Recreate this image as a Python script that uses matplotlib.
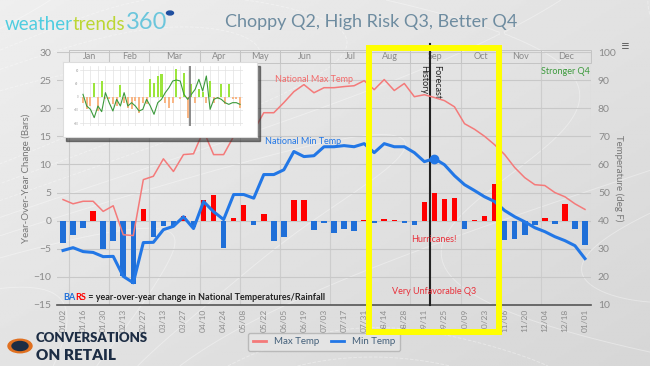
import numpy as np
import matplotlib
matplotlib.use("Agg")
import matplotlib.pyplot as plt
import matplotlib.transforms as mtransforms
from matplotlib.patches import Rectangle, Circle
from matplotlib.lines import Line2D

plt.rcParams['font.family'] = ['Lato', 'DejaVu Sans']

W, H = 650, 366


def fx(x):
    return x / W


def fy(y):
    return 1 - y / H


# ---- data (weekly) ----
week_labels = ['01/02', '01/16', '01/30', '02/13', '02/27', '03/13', '03/27', '04/10', '04/24',
               '05/08', '05/22', '06/05', '06/19', '07/03', '07/17', '07/31', '08/14', '08/28',
               '09/11', '09/25', '10/09', '10/23', '11/06', '11/20', '12/04', '12/18', '01/01']
months = ['Jan', 'Feb', 'Mar', 'Apr', 'May', 'Jun', 'Jul', 'Aug', 'Sep', 'Oct', 'Nov', 'Dec']
month_weeks = [4, 4, 5, 4, 4, 5, 4, 4, 5, 4, 4, 5]

max_temp = [47.5, 46, 46.9, 46.9, 43.3, 45.3, 35, 34.7, 54.6, 55.8,
            62, 57.5, 63.5, 63.8, 72, 63.5, 63.5, 70, 71, 72,
            78.4, 78.4, 82, 85.9, 88.4, 85.5, 87.3, 87.3, 87.7, 88,
            89.8, 86.6, 90.2, 86.3, 88.8, 84.1, 84.8, 83.8, 82.7, 80.5,
            74.5, 72.5, 70, 67, 63.5, 58.9, 55.3, 52.8, 52.5, 50,
            48.5, 46, 44]
min_temp = [29.4, 30.4, 29, 28.7, 27.2, 27.3, 20.2, 17.9, 32.2, 32.3,
            36.8, 38, 41.4, 37.2, 46.8, 43.2, 40.4, 49.3, 49.3, 48,
            56.4, 56.4, 58.1, 64.6, 62.8, 63.1, 66.3, 66.3, 66.7, 66.3,
            67.4, 64.2, 67.4, 66.3, 66.3, 64.2, 61, 62.1, 59.9, 56,
            52.8, 50.7, 48.5, 46.8, 43.6, 41.4, 39.6, 37.5, 36.1, 34.3,
            32.9, 31.1, 26.5]
yoy_bars = [-3.9, -2.5, -1.3, 1.8, -5, -3.7, -9.9, -11.2, 2.1, -2.9,
            -1, -0.9, 0.9, -1.1, 3.6, 4.6, -4.8, 0.5, 2.7, -0.7,
            1.1, -3.7, -2.9, 3.7, 3.7, -1.6, -0.4, -2.2, -1.5, -1.9,
            0.2, -0.4, 0.3, 0.1, -0.4, -0.7, 3.4, 5, 3.9, 4.1,
            -1.5, 0.2, 0.8, 6.6, -3.4, -3.2, -2.5, -0.8, 0.5, -0.6,
            3.0, -1.5, -4.3]
forecast_week = 36.6
current_week = 37

# small rainfall chart pasted in the corner
inset_bars = [-18, -38, -28, 42, -43, 47, -8, -6, -23, -28,
              34, -18, -33, -38, -13, -48, -18, -23, 52, 42,
              62, 67, -18, -33, -18, 82, -8, 72, -63, 37,
              -18, 22, 14, -18, 47, -18, -8, 37, -23, 37,
              -8, -8, -33]
inset_line = [7, -28, -38, -63, -28, -45, 12, -18, -43, -8,
              -28, 12, -28, -18, -28, -43, -38, -8, -28, -53,
              -18, -8, 12, 27, 47, 50, 47, 7, -8, 7,
              22, 52, 17, 62, -38, -8, -3, -8, -18, -23,
              -18, -18, -23]
inset_split = 28.5

weeks = np.arange(len(max_temp))

fig = plt.figure(figsize=(6.5, 3.66), dpi=100)

# ---- background ----
bg = fig.add_axes([0, 0, 1, 1], zorder=-10)
gx, gy = np.meshgrid(np.linspace(0, 1, 260), np.linspace(0, 1, 150))
shade = 0.89 - 0.05 * gx + 0.045 * gy
bg.imshow(shade, cmap='gray', vmin=0, vmax=1, origin='lower', extent=[0, 1, 0, 1], aspect='auto')
swirl = np.sin(5 * gx + 2.5 * np.cos(3 * gy)) + np.cos(6 * gy - 3 * gx)
bg.contour(gx, gy, swirl, levels=9, colors='white', linewidths=0.7, alpha=0.35)
bg.set_xlim(0, 1)
bg.set_ylim(0, 1)
bg.axis('off')

# ---- main chart ----
ax = fig.add_axes([fx(57), fy(305), (591 - 57) / W, (305 - 52) / H])
ax.set_facecolor('none')
bar_colors = ['#ff0000' if v > 0 else '#1f6fd8' for v in yoy_bars]
ax.bar(weeks, yoy_bars, width=0.55, color=bar_colors, zorder=3)
ax.set_xlim(-0.6, 52.6)
ax.set_ylim(-15, 30)
ax.set_yticks(np.arange(-15, 31, 5))
ax.set_xticks(weeks[::2])
ax.set_xticklabels(week_labels, rotation=90, fontsize=6, color='#8c8c8c')
bounds = 0.6 + np.concatenate([[0], np.cumsum(month_weeks)])
ax.set_xticks(bounds, minor=True)
ax.tick_params(axis='both', which='both', length=0)
ax.tick_params(axis='y', labelsize=7.5, labelcolor='#8a8a8a', pad=4)
ax.tick_params(axis='x', pad=3)
ax.grid(axis='y', color='#c8c8c8', lw=0.8)
ax.grid(axis='x', which='minor', color='#cdcdcd', lw=0.8)
ax.set_axisbelow(True)
for s in ['left', 'right', 'top']:
    ax.spines[s].set_visible(False)
ax.spines['bottom'].set_color('#555555')
ax.spines['bottom'].set_linewidth(1.2)
ax.set_ylabel('Year-Over-Year Change (Bars)', fontsize=7, color='#777777', labelpad=2)

# month band along the top
band = mtransforms.blended_transform_factory(ax.transData, ax.transAxes)
for name, start, n in zip(months, bounds[:-1], month_weeks):
    ax.add_patch(Rectangle((start, 0.958), n, 0.048, transform=band, fill=False,
                           edgecolor='#c4c4c4', lw=0.7, clip_on=False))
    ax.text(start + n / 2, 0.982, name, transform=band, ha='center', va='center',
            fontsize=6.5, color='#8a8a8a')

# history / forecast divider
ax.axvline(forecast_week, ymin=0, ymax=1.03, color='#222222', lw=1.5, clip_on=False, zorder=4)
ax.text(forecast_week - 0.2, 0.95, 'History', transform=band, rotation=-90,
        ha='right', va='top', fontsize=6.5, color='#222222')
ax.text(forecast_week + 0.2, 0.95, 'Forecast', transform=band, rotation=-90,
        ha='left', va='top', fontsize=6.5, color='#222222')

ax2 = ax.twinx()
ax2.set_ylim(10, 100)
ax2.set_yticks(np.arange(10, 101, 10))
ax2.plot(weeks, max_temp, color='#f47a7a', lw=1.1, zorder=5)
ax2.plot(weeks, min_temp, color='#2277e6', lw=2.2, zorder=5)
ax2.plot(weeks[current_week], min_temp[current_week], 'o', color='#2277e6', ms=6, zorder=6)
ax2.tick_params(axis='y', length=0, labelsize=7.5, labelcolor='#8a8a8a', pad=5)
for s in ax2.spines.values():
    s.set_visible(False)
ax2.set_ylabel('Temperature (deg F)', fontsize=7, color='#777777', rotation=-90, labelpad=6)

# annotations
fig.text(fx(314), fy(79), 'National Max Temp', ha='center', va='center', fontsize=6.5, color='#f26b6b')
fig.text(fx(303), fy(141), 'National Min Temp', ha='center', va='center', fontsize=6.5, color='#2277e6')
fig.text(fx(565), fy(71), 'Stronger Q4', ha='center', va='center', fontsize=6.5, color='#3c9a3c')
fig.text(fx(434), fy(240), 'Hurricanes!', ha='center', va='center', fontsize=6.5, color='#e8303a')
fig.text(fx(434), fy(292), 'Very Unfavorable Q3', ha='center', va='center', fontsize=6.5, color='#e8303a')
t = fig.text(fx(63), fy(298), 'BA', ha='left', va='center', fontsize=6.5, weight='bold', color='#1f6fd8')
t = ax.annotate('RS', xycoords=t, xy=(1, 0), va='bottom', fontsize=6.5, weight='bold', color='#ff0000')
ax.annotate(' = year-over-year change in National Temperatures/Rainfall', xycoords=t, xy=(1, 0),
            va='bottom', fontsize=6.5, weight='bold', color='#222222')

# legend
handles = [Line2D([], [], color='#f47a7a', lw=2), Line2D([], [], color='#2277e6', lw=2)]
leg = fig.legend(handles, ['Max Temp', 'Min Temp'], loc='center', bbox_to_anchor=(fx(324), fy(342)),
                 ncol=2, fontsize=7, frameon=True, fancybox=True, handlelength=1.4,
                 columnspacing=1.2, borderpad=0.5)
leg.get_frame().set_facecolor('#e6e6e6')
leg.get_frame().set_edgecolor('#b0b0b0')
for txt in leg.get_texts():
    txt.set_color('#44607a')

# yellow highlight box
fig.add_artist(Rectangle((fx(368.5), fy(331.5)), 130 / W, 284 / H, transform=fig.transFigure,
                         fill=False, edgecolor='#ffff00', lw=4.3, zorder=10))

# title and logos
fig.text(fx(371), fy(22), 'Choppy Q2, High Risk Q3, Better Q4', ha='center', va='center',
         fontsize=13, color='#6e8ca0')
w1 = fig.text(fx(5), fy(30), 'weather', ha='left', va='baseline', fontsize=13.5, color='#4fcde0')
w2 = ax.annotate('trends', xycoords=w1, xy=(1, 0), va='bottom', fontsize=13.5, color='#bcd634')
ax.annotate('360', xycoords=w2, xy=(1, 0), va='bottom', fontsize=17, color='#6cc6dc')
fig.add_artist(Circle((fx(170), fy(13)), 3.5 / W, transform=fig.transFigure, color='#1f4fa0', zorder=3))
fig.text(fx(625), fy(47), '\u2261', ha='center', va='center', fontsize=11, color='#666666')

fig.add_artist(Circle((fx(20), fy(346)), 12 / W, transform=fig.transFigure, color='#e07020', zorder=3))
fig.add_artist(Circle((fx(20), fy(346)), 8 / W, transform=fig.transFigure, color='#1d2d44', zorder=3))
fig.text(fx(36), fy(338), 'CONVERSATIONS', ha='left', va='center', fontsize=9.5, weight='heavy', color='#1d2d44')
fig.text(fx(36), fy(355), 'ON RETAIL', ha='left', va='center', fontsize=11, weight='heavy', color='#1d2d44')

# ---- pasted rainfall chart ----
fig.add_artist(Rectangle((fx(66), fy(141)), 194 / W, 75 / H, transform=fig.transFigure,
                         color='#333333', alpha=0.6, zorder=1.5))
box = fig.add_axes([fx(63), fy(137), 194 / W, 75 / H], zorder=2)
box.set_facecolor('white')
box.set_xticks([])
box.set_yticks([])
for s in box.spines.values():
    s.set_color('#dddddd')
ins = fig.add_axes([fx(80), fy(126), 163 / W, 60 / H], zorder=2.5)
ins.set_facecolor('none')
ix = np.arange(len(inset_bars))
ins.bar(ix, inset_bars, width=0.55, color=['#9be53c' if v > 0 else '#f8b685' for v in inset_bars])
ins.plot(ix, inset_line, color='#3c9a3c', lw=0.8)
ins.axvline(inset_split, color='#777777', lw=1.2)
ins.set_xlim(-0.8, len(inset_bars) - 0.2)
ins.set_ylim(-88, 92)
ins.set_yticks(np.arange(-80, 91, 40))
ins.set_xticks(ix[::2])
ins.set_xticklabels(['' for _ in ix[::2]])
ins.tick_params(length=0, labelsize=2, labelcolor='#999999', pad=1)
ins.grid(color='#e2e2e2', lw=0.5)
ins.set_axisbelow(True)
for s in ins.spines.values():
    s.set_visible(False)

fig.savefig('out.png', dpi=100)
